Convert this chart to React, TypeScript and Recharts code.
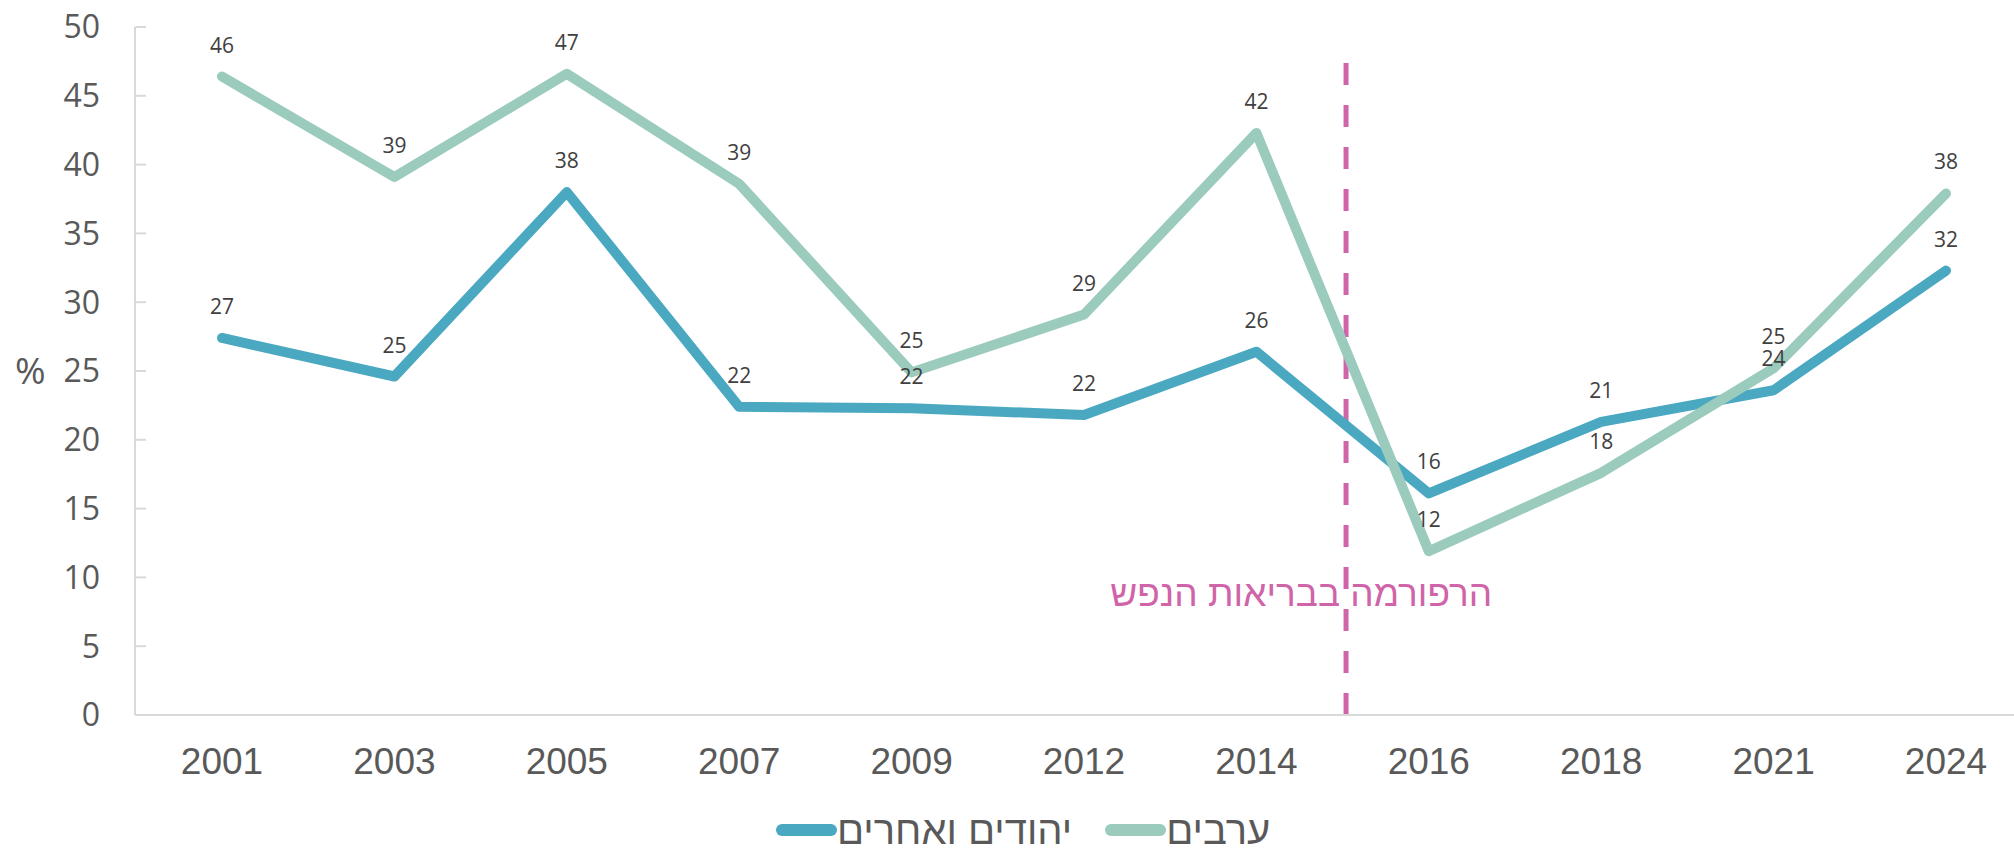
import { LineChart, Line, XAxis, YAxis, ReferenceLine, ReferenceDot, LabelList, Legend } from 'recharts';

const years = ['2001', '2003', '2005', '2007', '2009', '2012', '2014', '2016', '2018', '2021', '2024'];
const jewsOthers = [27.4, 24.6, 38.0, 22.4, 22.3, 21.8, 26.4, 16.1, 21.3, 23.6, 32.3];
const arabs = [46.4, 39.1, 46.6, 38.6, 24.9, 29.1, 42.3, 11.9, 17.6, 25.2, 37.9];
const yTicks = [0, 5, 10, 15, 20, 25, 30, 35, 40, 45, 50];

const seriesNames = { jews: 'יהודים ואחרים', arabs: 'ערבים' };
const reformText = 'הרפורמה בבריאות הנפש';

const BLUE = '#4aa8c1';
const GREEN = '#9acbbd';
const PINK = '#d064a9';
const AXIS = '#d9d9d9';
const TEXT = '#595959';

const chartData = years.map((year, i) => ({ idx: i, year, jews: jewsOthers[i], arabs: arabs[i] }));
const xTicks = years.map((_, i) => i);

const legendItems = [
  { name: seriesNames.jews, color: BLUE },
  { name: seriesNames.arabs, color: GREEN },
];

const PointLabel = (props: any) => {
  const { x, y, value } = props;
  return (
    <text
      x={x}
      y={y - 32}
      textAnchor="middle"
      dominantBaseline="central"
      fontFamily="'Open Sans', sans-serif"
      fontSize={21}
      fill="#404040"
    >
      {Math.round(value)}
    </text>
  );
};

const ChartLegend = () => (
  <div
    style={{
      display: 'flex',
      alignItems: 'center',
      height: 40,
      paddingLeft: 776,
      fontFamily: "'Liberation Sans', Arial, sans-serif",
      fontSize: 40,
      color: TEXT,
    }}
  >
    {legendItems.map((item) => (
      <div key={item.name} style={{ display: 'flex', alignItems: 'center', marginRight: 33 }}>
        <span style={{ display: 'inline-block', width: 61, height: 12, borderRadius: 6, background: item.color }} />
        <span>{item.name}</span>
      </div>
    ))}
  </div>
);

const App = () => {
  return (
    <div style={{ position: 'absolute', left: 0, top: 0, width: 2014, height: 848, background: '#fff' }}>
      <LineChart width={2014} height={848} data={chartData} margin={{ top: 27, right: 0, bottom: 33, left: 0 }}>
        <XAxis
          dataKey="idx"
          type="number"
          domain={[0, 10]}
          ticks={xTicks}
          interval={0}
          tickFormatter={(i: number) => years[i]}
          padding={{ left: 87, right: 68 }}
          height={60}
          axisLine={{ stroke: AXIS, strokeWidth: 2 }}
          tickLine={false}
          tickSize={0}
          tickMargin={33}
          tick={{ fill: TEXT, fontSize: 37, fontFamily: "'Liberation Sans', Arial, sans-serif" }}
        />
        <YAxis
          width={135}
          domain={[0, 50]}
          ticks={yTicks}
          interval={0}
          axisLine={{ stroke: AXIS, strokeWidth: 2 }}
          tickLine={{ stroke: AXIS, strokeWidth: 2 }}
          tickSize={-11}
          tickMargin={46}
          tick={{ fill: TEXT, fontSize: 32, fontFamily: "'Open Sans', sans-serif" }}
          label={{
            value: '%',
            position: 'insideLeft',
            offset: 15,
            fill: TEXT,
            fontSize: 37,
            fontFamily: "'Open Sans', sans-serif",
          }}
        />
        <ReferenceLine
          segment={[{ x: 6.52, y: 0 }, { x: 6.52, y: 47.5 }]}
          stroke={PINK}
          strokeWidth={5}
          strokeDasharray="22 20"
        />
        <ReferenceDot
          x={6.26}
          y={8.9}
          r={0}
          fill="none"
          stroke="none"
          label={{
            value: reformText,
            position: 'center',
            fill: PINK,
            fontSize: 37,
            fontFamily: "'Liberation Sans', Arial, sans-serif",
          }}
        />
        <Line
          type="linear"
          dataKey="jews"
          name={seriesNames.jews}
          stroke={BLUE}
          strokeWidth={10}
          strokeLinecap="round"
          strokeLinejoin="round"
          dot={false}
          activeDot={false}
          isAnimationActive={false}
        >
          <LabelList dataKey="jews" content={PointLabel} />
        </Line>
        <Line
          type="linear"
          dataKey="arabs"
          name={seriesNames.arabs}
          stroke={GREEN}
          strokeWidth={10}
          strokeLinecap="round"
          strokeLinejoin="round"
          dot={false}
          activeDot={false}
          isAnimationActive={false}
        >
          <LabelList dataKey="arabs" content={PointLabel} />
        </Line>
        <Legend
          verticalAlign="bottom"
          content={ChartLegend}
          wrapperStyle={{ left: 0, bottom: 'auto', top: 810, width: 2014 }}
        />
      </LineChart>
    </div>
  );
};

export default App;
